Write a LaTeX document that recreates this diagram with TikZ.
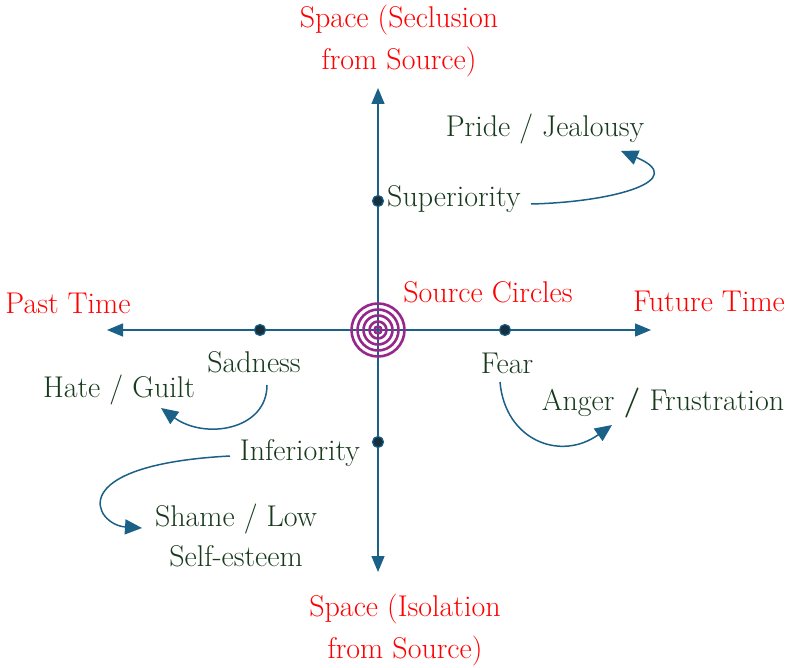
\documentclass[tikz,border=0pt]{standalone}
\usepackage{fontspec}
\usetikzlibrary{arrows.meta}
\definecolor{axisblue}{RGB}{26,96,135}
\definecolor{lblgreen}{RGB}{24,58,28}
\definecolor{lblred}{RGB}{255,0,0}
\definecolor{ringpurple}{RGB}{150,40,140}
\definecolor{dotfill}{RGB}{22,48,62}
\tikzset{
  axisline/.style={draw=axisblue,line width=1.4pt,-{Triangle[length=16pt,width=13pt]}},
  bend arrow/.style={draw=axisblue,line width=1.5pt,-{Triangle[length=17pt,width=15pt]}},
  redlbl/.style={text=lblred,font=\fontsize{30}{40}\selectfont,inner sep=0pt,anchor=base},
  grnlbl/.style={text=lblgreen,font=\fontsize{30}{40}\selectfont,inner sep=0pt,anchor=base},
  ring/.style={draw=ringpurple,line width=2.6pt},
  axisdot/.style={circle,fill=dotfill,draw=axisblue,line width=1.2pt,minimum size=11pt,inner sep=0pt}
}
\begin{document}
\begin{tikzpicture}[x=1pt,y=-1pt]
\useasboundingbox (0,0) rectangle (792,668);
% axis ends
\coordinate (C) at (378,330);
\coordinate (L) at (107,330);
\coordinate (R) at (651,330);
\coordinate (T) at (378,88);
\coordinate (B) at (378,572);
\draw[axisline] (C) -- (L);
\draw[axisline] (C) -- (R);
\draw[axisline] (C) -- (T);
\draw[axisline] (C) -- (B);
% source circles
\foreach \r in {26.5,20.5,14.5,8.5,3.5}{\draw[ring] (C) circle[radius=\r];}
% dots
\node[axisdot] (dl) at (260,330) {};
\node[axisdot] (dr) at (505,330) {};
\node[axisdot] (dt) at (378,201) {};
\node[axisdot] (db) at (378,442) {};
% red labels
\node[redlbl] (st1) at (399,28) {Space (Seclusion};
\node[redlbl] (st2) at (399,70) {from Source)};
\node[redlbl] (past) at (68,313) {Past Time};
\node[redlbl] (fut) at (709,311) {Future Time};
\node[redlbl] (src) at (488,302) {Source Circles};
\node[redlbl] (sb1) at (405,616) {Space (Isolation};
\node[redlbl] (sb2) at (405,658) {from Source)};
% green labels
\node[grnlbl] (pride) at (545,137) {Pride / Jealousy};
\node[grnlbl,anchor=base west] (sup) at (387,207) {Superiority};
\node[grnlbl] (sad) at (254,372) {Sadness};
\node[grnlbl] (fear) at (507,373) {Fear};
\node[grnlbl] (hate) at (119,397) {Hate / Guilt};
\node[grnlbl] (anger) at (663,410) {Anger \textbf{/} Frustration};
\node[grnlbl] (inf) at (300,460) {Inferiority};
\node[grnlbl] (sh1) at (236,526) {Shame / Low};
\node[grnlbl] (sh2) at (236,566) {Self-esteem};
% curved arrows
\coordinate (supE) at (531,204);
\coordinate (prideT) at (621,151);
\draw[bend arrow] (supE) .. controls (615,202) and (690,180) .. (prideT);
\coordinate (sadS) at (267,385);
\coordinate (hateT) at (161,408);
\draw[bend arrow] (sadS) .. controls (267,430) and (205,440) .. (hateT);
\coordinate (infS) at (230,456);
\coordinate (shT) at (142,528);
\draw[bend arrow] (infS) .. controls (60,465) and (95,525) .. (shT);
\coordinate (fearS) at (500,382);
\coordinate (angT) at (612,425);
\draw[bend arrow] (fearS) .. controls (505,440) and (560,462) .. (angT);
\end{tikzpicture}
\end{document}
